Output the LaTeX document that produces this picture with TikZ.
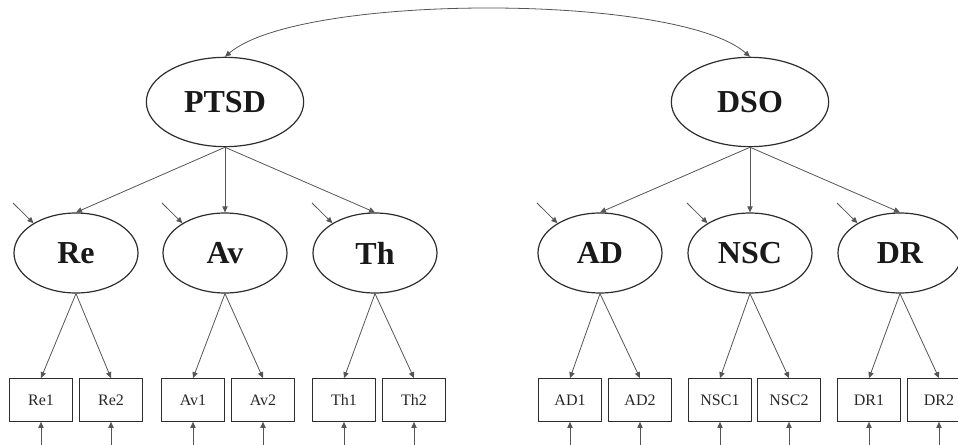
\documentclass[tikz,border=0pt]{standalone}
\usepackage{fontspec}
\setmainfont{Liberation Serif}
\usepackage{xcolor}
\usetikzlibrary{shapes.geometric,arrows.meta}

\definecolor{lineGray}{RGB}{85,85,85}
\definecolor{shapeGray}{RGB}{45,45,45}

\begin{document}
\begin{tikzpicture}[x=0.75pt,y=0.75pt,yscale=-1,xscale=1,
  factor/.style={draw=shapeGray,line width=0.9pt,ellipse,inner sep=0pt,minimum width=93pt,minimum height=60pt,font=\fontsize{24}{28}\selectfont\bfseries,text=black!90},
  topfactor/.style={factor,minimum width=118pt,minimum height=67pt},
  item/.style={draw=shapeGray,line width=0.8pt,rectangle,inner sep=0pt,minimum width=47pt,minimum height=32pt,font=\fontsize{12}{14}\selectfont,text=black!85},
  path/.style={draw=lineGray,line width=0.6pt,-{Triangle[length=4.5pt,width=4pt]}},
  both/.style={draw=lineGray,line width=0.6pt,{Triangle[length=4.5pt,width=4pt]}-{Triangle[length=4.5pt,width=4pt]}}]

\useasboundingbox (0,0) rectangle (958,445);


\node [topfactor] (PTSD) at (225,102) {PTSD};

\node [topfactor] (DSO) at (750,102) {DSO};


\node [factor] (Re) at (76,253) {Re};

\node [factor] (Av) at (225,253) {Av};

\node [factor] (Th) at (375,253) {Th};

\node [factor] (AD) at (600,253) {AD};

\node [factor] (NSC) at (750,253) {NSC};

\node [factor] (DR) at (900,253) {DR};


\node [item] (Re1) at (41,400) {Re1};

\node [item] (Re2) at (111,400) {Re2};

\node [item] (Av1) at (193,400) {Av1};

\node [item] (Av2) at (263,400) {Av2};

\node [item] (Th1) at (344,400) {Th1};

\node [item] (Th2) at (414,400) {Th2};

\node [item] (AD1) at (570,400) {AD1};

\node [item] (AD2) at (640,400) {AD2};

\node [item] (NSC1) at (720,400) {NSC1};

\node [item] (NSC2) at (789,400) {NSC2};

\node [item] (DR1) at (869,400) {DR1};

\node [item] (DR2) at (939,400) {DR2};


\draw [both] (PTSD.north) .. controls (300,-7) and (677,-7) .. (DSO.north) ;


\draw [path] (PTSD.south) -- (Re.north) ;

\draw [path] (PTSD.south) -- (Av.north) ;

\draw [path] (PTSD.south) -- (Th.north) ;

\draw [path] (DSO.south) -- (AD.north) ;

\draw [path] (DSO.south) -- (NSC.north) ;

\draw [path] (DSO.south) -- (DR.north) ;


\draw [path] (Re.south) -- (Re1.north) ;

\draw [path] (Re.south) -- (Re2.north) ;

\draw [path] (Av.south) -- (Av1.north) ;

\draw [path] (Av.south) -- (Av2.north) ;

\draw [path] (Th.south) -- (Th1.north) ;

\draw [path] (Th.south) -- (Th2.north) ;

\draw [path] (AD.south) -- (AD1.north) ;

\draw [path] (AD.south) -- (AD2.north) ;

\draw [path] (NSC.south) -- (NSC1.north) ;

\draw [path] (NSC.south) -- (NSC2.north) ;

\draw [path] (DR.south) -- (DR1.north) ;

\draw [path] (DR.south) -- (DR2.north) ;


\coordinate (dRe) at (13,203) ;
\coordinate (dAv) at (162,203) ;
\coordinate (dTh) at (312,203) ;
\coordinate (dAD) at (537,203) ;
\coordinate (dNSC) at (687,203) ;
\coordinate (dDR) at (837,203) ;

\draw [path] (dRe) -- (Re.145) ;

\draw [path] (dAv) -- (Av.145) ;

\draw [path] (dTh) -- (Th.145) ;

\draw [path] (dAD) -- (AD.145) ;

\draw [path] (dNSC) -- (NSC.145) ;

\draw [path] (dDR) -- (DR.145) ;


\coordinate (eRe1) at (41,450) ;
\coordinate (eRe2) at (111,450) ;
\coordinate (eAv1) at (193,450) ;
\coordinate (eAv2) at (263,450) ;
\coordinate (eTh1) at (344,450) ;
\coordinate (eTh2) at (414,450) ;
\coordinate (eAD1) at (570,450) ;
\coordinate (eAD2) at (640,450) ;
\coordinate (eNSC1) at (720,450) ;
\coordinate (eNSC2) at (789,450) ;
\coordinate (eDR1) at (869,450) ;
\coordinate (eDR2) at (939,450) ;

\draw [path] (eRe1) -- (Re1.south) ;

\draw [path] (eRe2) -- (Re2.south) ;

\draw [path] (eAv1) -- (Av1.south) ;

\draw [path] (eAv2) -- (Av2.south) ;

\draw [path] (eTh1) -- (Th1.south) ;

\draw [path] (eTh2) -- (Th2.south) ;

\draw [path] (eAD1) -- (AD1.south) ;

\draw [path] (eAD2) -- (AD2.south) ;

\draw [path] (eNSC1) -- (NSC1.south) ;

\draw [path] (eNSC2) -- (NSC2.south) ;

\draw [path] (eDR1) -- (DR1.south) ;

\draw [path] (eDR2) -- (DR2.south) ;


\end{tikzpicture}
\end{document}
